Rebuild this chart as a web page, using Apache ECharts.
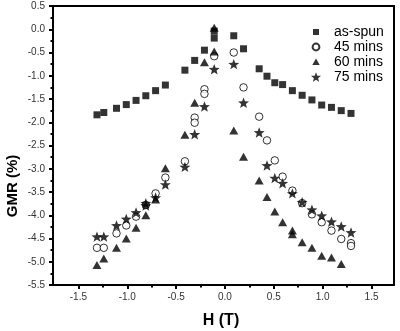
<!DOCTYPE html>
<html>
<head>
<meta charset="utf-8">
<script src="https://cdn.jsdelivr.net/npm/echarts@6/dist/echarts.min.js"></script>
<style>
  html, body { margin: 0; padding: 0; background: #fff; }
  #chart { width: 400px; height: 331px; }
</style>
</head>
<body>
<div id="chart"></div>
<script>
// GMR (%) versus applied field H (T) for ribbons annealed for different times
const seriesNames = ['as-spun', '45 mins', '60 mins', '75 mins'];

const asSpunH   = [-1.31, -1.24, -1.11, -1.01, -0.91, -0.81, -0.71, -0.61, -0.41, -0.31, -0.21, -0.11, -0.11,
                   0.09, 0.19, 0.35, 0.43, 0.51, 0.59, 0.69, 0.79, 0.89, 0.99, 1.09, 1.19, 1.29];
const asSpunGMR = [-1.84, -1.79, -1.70, -1.62, -1.53, -1.43, -1.32, -1.20, -0.88, -0.67, -0.45, -0.19, -0.04,
                   -0.14, -0.42, -0.85, -1.01, -1.15, -1.19, -1.32, -1.42, -1.52, -1.63, -1.68, -1.75, -1.81];

const min45H   = [-1.31, -1.24, -1.11, -1.01, -0.91, -0.81, -0.71, -0.61, -0.41, -0.31, -0.31, -0.21, -0.21, -0.11,
                  0.09, 0.19, 0.35, 0.43, 0.51, 0.59, 0.69, 0.79, 0.89, 0.99, 1.09, 1.19, 1.29, 1.29];
const min45GMR = [-4.70, -4.70, -4.39, -4.22, -4.03, -3.78, -3.53, -3.19, -2.84, -1.90, -2.01, -1.29, -1.39, -0.58,
                  -0.50, -1.25, -1.88, -2.39, -2.82, -3.17, -3.47, -3.74, -3.98, -4.15, -4.33, -4.51, -4.60, -4.66];

const min60H   = [-1.31, -1.24, -1.11, -1.01, -0.91, -0.81, -0.71, -0.61, -0.41, -0.31, -0.21, -0.11, -0.11,
                  0.09, 0.19, 0.35, 0.43, 0.51, 0.59, 0.69, 0.69, 0.79, 0.89, 0.99, 1.09, 1.19];
const min60GMR = [-5.07, -4.93, -4.70, -4.50, -4.27, -4.00, -3.66, -2.99, -2.27, -1.58, -0.71, 0.03, -0.48,
                  -2.18, -2.74, -3.25, -3.61, -3.92, -4.15, -4.33, -4.41, -4.58, -4.70, -4.87, -4.91, -5.05];

const min75H   = [-1.31, -1.24, -1.11, -1.01, -0.91, -0.81, -0.81, -0.71, -0.61, -0.41, -0.31, -0.21, -0.11,
                  0.09, 0.19, 0.35, 0.43, 0.51, 0.59, 0.69, 0.79, 0.89, 0.99, 1.09, 1.19, 1.29];
const min75GMR = [-4.46, -4.46, -4.22, -4.08, -3.94, -3.79, -3.74, -3.62, -3.34, -2.96, -2.26, -1.66, -0.86,
                  -0.75, -1.58, -2.22, -2.93, -3.20, -3.31, -3.53, -3.72, -3.88, -4.01, -4.14, -4.24, -4.37];

// axis ranges and tick spacing
const xRange = [-1.76, 1.73];
const xTickRange = [-1.5, 1.5];
const xTickStep = 0.5;
const yRange = [-5.5, 0.5];
const yTickStep = 0.5;

const zip = (xs, ys) => xs.map((x, i) => [x, ys[i]]);

const starPath = 'path://M50 0L62.3 33L97.6 34.5L70 56.5L79.4 90.5L50 71L20.6 90.5L30 56.5L2.4 34.5L37.7 33Z';
// legend icons keep an empty margin so the glyph sits smaller inside the icon box
const legendSquare = 'path://M0 0M2 2L8 2L8 8L2 8Z M10 10';
const legendCircle = 'path://M0 0M5 1.6A3.4 3.4 0 1 1 4.99 1.6Z M10 10';
const legendTriangle = 'path://M0 0M5 1.5L8.7 8L1.3 8Z M10 10';

const font = 'Liberation Sans, Arial, sans-serif';

// plot box
const W = 400, H = 331;
const plot = { left: 53, right: 6, top: 6, bottom: 46 };
const plotW = W - plot.left - plot.right;
const toPx = v => plot.left + (v - xRange[0]) / (xRange[1] - xRange[0]) * plotW;

// a second, label-carrying grid spans exactly the labelled part of the H axis
const tickGrid = {
  left: toPx(xTickRange[0]),
  right: W - toPx(xTickRange[1]),
  top: plot.top,
  bottom: plot.bottom
};

const black = { color: '#000', width: 2 };
const labelStyle = { fontFamily: font, fontSize: 10, color: '#333', formatter: v => v.toFixed(1) };

const chart = echarts.init(document.getElementById('chart'));

chart.setOption({
  animation: false,
  backgroundColor: '#fff',
  grid: [
    Object.assign({}, plot),
    Object.assign({}, tickGrid)
  ],
  xAxis: [
    { // main H axis: line only
      type: 'value', gridIndex: 0, position: 'bottom', min: xRange[0], max: xRange[1],
      splitLine: { show: false },
      axisLine: { show: true, onZero: false, lineStyle: black },
      axisTick: { show: false }, axisLabel: { show: false }
    },
    { // frame top edge
      type: 'value', gridIndex: 0, position: 'top', min: xRange[0], max: xRange[1],
      splitLine: { show: false },
      axisLine: { show: true, onZero: false, lineStyle: black },
      axisTick: { show: false }, axisLabel: { show: false }
    },
    { // ticks and labels of the H axis
      type: 'value', gridIndex: 1, position: 'bottom', min: xTickRange[0], max: xTickRange[1], interval: xTickStep,
      splitLine: { show: false },
      axisLine: { show: false, onZero: false },
      axisTick: { show: true, length: 4, lineStyle: black },
      minorTick: { show: true, splitNumber: 2, length: 2.5, lineStyle: black },
      axisLabel: Object.assign({ margin: 7 }, labelStyle)
    }
  ],
  yAxis: [
    { // GMR axis with ticks and labels
      type: 'value', gridIndex: 0, position: 'left', min: yRange[0], max: yRange[1], interval: yTickStep,
      splitLine: { show: false },
      axisLine: { show: true, onZero: false, lineStyle: black },
      axisTick: { show: true, length: 4, lineStyle: black },
      minorTick: { show: true, splitNumber: 2, length: 2.5, lineStyle: black },
      axisLabel: Object.assign({ margin: 8 }, labelStyle)
    },
    { // frame right edge
      type: 'value', gridIndex: 0, position: 'right', min: yRange[0], max: yRange[1],
      splitLine: { show: false },
      axisLine: { show: true, onZero: false, lineStyle: black },
      axisTick: { show: false }, axisLabel: { show: false }
    },
    { // companion of the tick grid, not drawn
      type: 'value', gridIndex: 1, min: yRange[0], max: yRange[1], show: false
    }
  ],
  legend: {
    orient: 'vertical',
    left: 305, top: 19,
    padding: 5,
    itemWidth: 10, itemHeight: 10, itemGap: -1,
    selectedMode: false,
    textStyle: { fontFamily: font, fontSize: 14, color: '#000', lineHeight: 16, padding: [0, 0, 0, 8] },
    data: [
      { name: seriesNames[0], icon: legendSquare },
      { name: seriesNames[1], icon: legendCircle },
      { name: seriesNames[2], icon: legendTriangle },
      { name: seriesNames[3], icon: starPath }
    ]
  },
  graphic: [
    {
      type: 'text', x: 13, y: 186, rotation: Math.PI / 2,
      style: { text: 'GMR (%)', font: 'bold 15px ' + font, fill: '#000', align: 'center', verticalAlign: 'middle' }
    },
    {
      type: 'text', x: 221, y: 321,
      style: { text: 'H (T)', font: 'bold 16px ' + font, fill: '#000', align: 'center', verticalAlign: 'middle' }
    }
  ],
  series: [
    {
      name: seriesNames[0], type: 'scatter', xAxisIndex: 0, yAxisIndex: 0,
      symbol: 'rect', symbolSize: 7,
      itemStyle: { color: '#000' },
      data: zip(asSpunH, asSpunGMR)
    },
    {
      name: seriesNames[1], type: 'scatter', xAxisIndex: 0, yAxisIndex: 0,
      symbol: 'circle', symbolSize: 7.5,
      itemStyle: { color: '#fff', borderColor: '#000', borderWidth: 1 },
      data: zip(min45H, min45GMR)
    },
    {
      name: seriesNames[2], type: 'scatter', xAxisIndex: 0, yAxisIndex: 0,
      symbol: 'triangle', symbolSize: [9, 8],
      itemStyle: { color: '#000' },
      data: zip(min60H, min60GMR)
    },
    {
      name: seriesNames[3], type: 'scatter', xAxisIndex: 0, yAxisIndex: 0,
      symbol: starPath, symbolSize: 11, symbolKeepAspect: true,
      itemStyle: { color: '#000' },
      data: zip(min75H, min75GMR)
    }
  ]
});
</script>
</body>
</html>
